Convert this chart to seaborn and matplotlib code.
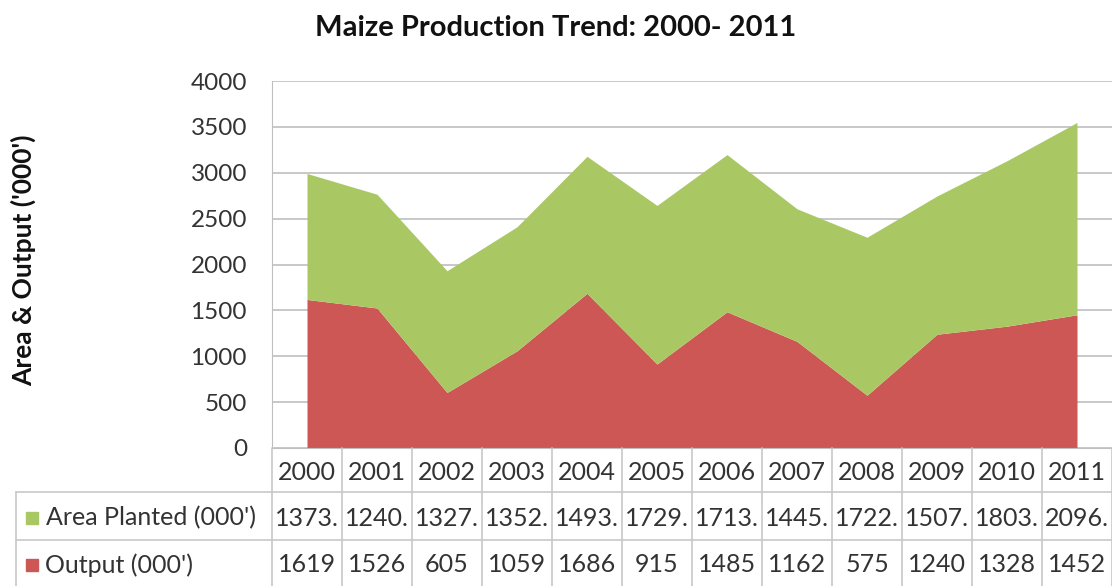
import numpy as np
import seaborn as sns
import matplotlib.pyplot as plt
from matplotlib.patches import Rectangle

years = ["2000", "2001", "2002", "2003", "2004", "2005",
         "2006", "2007", "2008", "2009", "2010", "2011"]
area_planted = [1373, 1240, 1327, 1352, 1493, 1729, 1713, 1445, 1722, 1507, 1803, 2096]
output = [1619, 1526, 605, 1059, 1686, 915, 1485, 1162, 575, 1240, 1328, 1452]
y_ticks = [0, 500, 1000, 1500, 2000, 2500, 3000, 3500, 4000]

GREEN = "#A9C864"
RED = "#CD5755"
GRID = "#BFBFBF"
TEXT = "#333333"

sns.set_style("white")
plt.rcParams["font.family"] = ["Lato", "DejaVu Sans"]

W, H = 1112, 586
fig = plt.figure(figsize=(W / 100, H / 100), dpi=100)

# plot area in pixels
left, right, top, bottom = 272, 1112, 81, 448
ax = fig.add_axes([left / W, 1 - bottom / H, (right - left) / W, (bottom - top) / H])

x = np.arange(len(years))
ax.stackplot(x, output, area_planted, colors=[RED, GREEN], linewidth=0)
ax.set_xlim(-0.5, len(years) - 0.5)
ax.set_ylim(0, 4000)
ax.set_yticks(y_ticks)
ax.set_yticklabels([str(t) for t in y_ticks], fontsize=17.5, color=TEXT)
ax.tick_params(axis="y", length=0, pad=18)
ax.set_xticks([])
ax.yaxis.grid(True, color=GRID, linewidth=1.2)
ax.set_axisbelow(True)
sns.despine(ax=ax, top=True, right=True)
ax.spines["left"].set_color(GRID)
ax.spines["bottom"].set_color(GRID)

fig.text(556 / W, 1 - 28 / H, "Maize Production Trend: 2000- 2011",
         ha="center", va="center", fontsize=21, fontweight="bold", color="#111111")
fig.text(23 / W, 1 - 260 / H, "Area & Output ('000')", rotation=90,
         ha="center", va="center", fontsize=19, fontweight="bold", color="#111111")

# data table drawn in pixel coordinates
tab = fig.add_axes([0, 0, 1, 1])
tab.set_xlim(0, W)
tab.set_ylim(H, 0)
tab.axis("off")

col_w = (right - left) / len(years)
row_hdr, row1, row2, row_end = bottom, 492, 540, 590
lc = "#C8C8C8"
fs = 18
# vertical column borders
for i in range(len(years) + 1):
    xe = left + i * col_w
    tab.plot([xe, xe], [row_hdr, row_end], color=lc, lw=1.2)
tab.plot([16, 16], [row1, row_end], color=lc, lw=1.2)
for yl in (row1, row2):
    tab.plot([16, right], [yl, yl], color=lc, lw=1.2)

for i, yr in enumerate(years):
    cx = left + (i + 0.5) * col_w
    tab.text(cx, (row_hdr + row1) / 2 + 2, yr, ha="center", va="center",
             fontsize=fs, color=TEXT)
    tab.text(cx, (row1 + row2) / 2 + 2, f"{area_planted[i]:.0f}.", ha="center",
             va="center", fontsize=fs, color=TEXT)
    tab.text(cx, (row2 + 586) / 2 + 2, f"{output[i]:.0f}", ha="center",
             va="center", fontsize=fs, color=TEXT)

tab.add_patch(Rectangle((26, 512), 12, 12, color=GREEN))
tab.text(46, (row1 + row2) / 2 + 2, "Area Planted (000')", ha="left",
         va="center", fontsize=fs, color=TEXT)
tab.add_patch(Rectangle((26, 559), 12, 12, color=RED))
tab.text(45, (row2 + 586) / 2 + 2, "Output (000')", ha="left",
         va="center", fontsize=fs, color=TEXT)

fig.savefig("out.png", dpi=100)
